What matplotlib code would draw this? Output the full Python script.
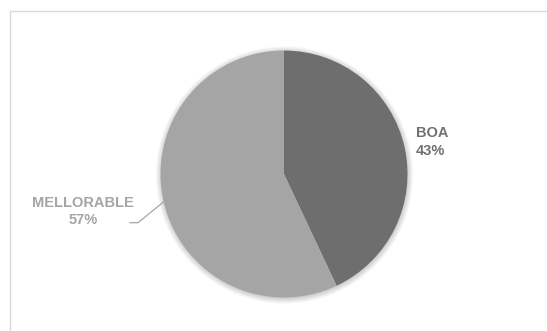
import numpy as np
import matplotlib
matplotlib.use('Agg')
import matplotlib.pyplot as plt
from matplotlib.patches import Circle

# data
labels = ['BOA', 'MELLORABLE']
shares = [43, 57]
colors = ['#6e6e6e', '#a5a5a5']

plt.rcParams['font.family'] = ['Liberation Sans', 'DejaVu Sans']

fig = plt.figure(figsize=(5.47, 3.31), dpi=100)

# chart frame (light grey border, cropped at right/bottom)
W, H = 547.0, 331.0
fig.add_artist(plt.Line2D([9.5 / W, 9.5 / W], [0, 1 - 10.5 / H], color='#d9d9d9', lw=1))
fig.add_artist(plt.Line2D([9.5 / W, 1], [1 - 10.5 / H, 1 - 10.5 / H], color='#d9d9d9', lw=1))

# pie axes: centre (284, 174) px, radius ~123.5 px
cx, cy, r = 284.0, 174.0, 123.5
ax = fig.add_axes([(cx - r) / W, (H - cy - r) / H, 2 * r / W, 2 * r / H])

# soft shadow under the pie
for k in range(8):
    ax.add_patch(Circle((0.004, -0.008), 1.0 + 0.006 * k, color='#000000',
                        alpha=0.025, lw=0, zorder=0, clip_on=False))

wedges, _ = ax.pie(shares, colors=colors, startangle=90, counterclock=False,
                   radius=1.0, wedgeprops=dict(linewidth=0))
for w in wedges:
    w.set_zorder(2)
ax.set_xlim(-1, 1)
ax.set_ylim(-1, 1)
ax.set_aspect('equal')
ax.axis('off')

# BOA label, to the right
w = wedges[0]
mid = np.deg2rad((w.theta1 + w.theta2) / 2)
ax.text(1.095 * np.cos(mid), 1.19 * np.sin(mid),
        '%s\n%d%%' % (labels[0], shares[0]), ha='left', va='center',
        fontsize=10.5, fontweight='bold', color='#707070', linespacing=1.3,
        clip_on=False)

# MELLORABLE label with leader line
w = wedges[1]
mid = np.deg2rad((w.theta1 + w.theta2) / 2)
x0, y0 = np.cos(mid), np.sin(mid)
x1, y1 = x0 - 0.206, y0 - 0.176
x2 = x1 - 0.065
ax.plot([x0 + 0.01, x1, x2], [y0, y1, y1], color='#a5a5a5', lw=0.9, clip_on=False)
ax.text(-1.628, -0.304, '%s\n%d%%' % (labels[1], shares[1]), ha='center', va='center',
        fontsize=10.5, fontweight='bold', color='#a5a5a5', linespacing=1.3,
        clip_on=False)

fig.savefig('out.png', dpi=100)
